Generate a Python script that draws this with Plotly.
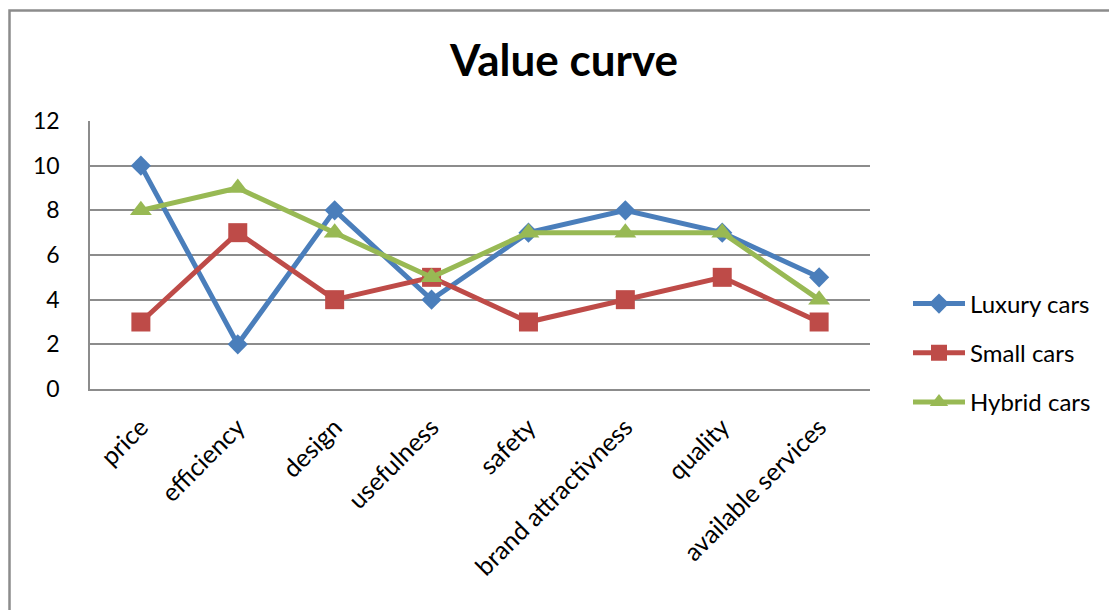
import plotly.graph_objects as go

categories = ["price", "efficiency", "design", "usefulness", "safety",
              "brand attractivness", "quality", "available services"]
luxury_cars = [10, 2, 8, 4, 7, 8, 7, 5]
small_cars = [3, 7, 4, 5, 3, 4, 5, 3]
hybrid_cars = [8, 9, 7, 5, 7, 7, 7, 4]
y_ticks = [0, 2, 4, 6, 8, 10, 12]

FONT = "Lato, Carlito, 'Open Sans', sans-serif"

series = [
    ("Luxury cars", luxury_cars, "#4A7EBB", "diamond", 15.5),
    ("Small cars", small_cars, "#BE4B48", "square", 19),
    ("Hybrid cars", hybrid_cars, "#98B954", "triangle-up", 19),
]

fig = go.Figure()
for i, (name, vals, color, symbol, size) in enumerate(series):
    fig.add_trace(go.Scatter(
        x=categories, y=vals, name=name, mode="lines+markers",
        line=dict(color=color, width=5),
        marker=dict(symbol=symbol, size=size, color=color),
        legendgroup=f"g{i}",
    ))

W, H = 1109, 610
L, R, T, B = 90, 239, 121, 221
pw, ph = W - L - R, H - T - B

# outer chart-area frame
fig.add_shape(type="rect", xref="paper", yref="paper",
              x0=(9.5 - L) / pw, x1=(W + 20 - L) / pw,
              y0=-(H + 20 - (H - B)) / ph, y1=1 + (T - 10.5) / ph,
              line=dict(color="#8C8C8C", width=2.5), layer="below")

fig.update_layout(
    width=W, height=H,
    margin=dict(l=L, r=R, t=T, b=B),
    paper_bgcolor="white", plot_bgcolor="white",
    font=dict(family=FONT, size=24, color="black"),
    title=dict(text="<b>Value curve</b>", x=564 / W, xanchor="center",
               y=1 - 61 / H, yanchor="middle",
               font=dict(family=FONT, size=44, color="black")),
    showlegend=True,
    legend=dict(x=(908 - L) / pw, xanchor="left", y=(H - B - 353) / ph,
                yanchor="middle", font=dict(size=24), tracegroupgap=15,
                itemwidth=52, bgcolor="rgba(0,0,0,0)"),
    xaxis=dict(type="category", tickangle=-45, showgrid=False,
               showline=True, linecolor="#8C8C8C", linewidth=1.5,
               ticks="", tickfont=dict(size=25), ticklabelstandoff=12,
               fixedrange=True),
    yaxis=dict(range=[0, 12], tickvals=y_ticks, showgrid=True,
               gridcolor="#8C8C8C", gridwidth=1.5, showline=True,
               linecolor="#8C8C8C", linewidth=1.5, zeroline=False,
               ticks="outside", ticklen=24, tickcolor="rgba(0,0,0,0)",
               tickfont=dict(size=23)),
)

fig.write_html("out.html")
